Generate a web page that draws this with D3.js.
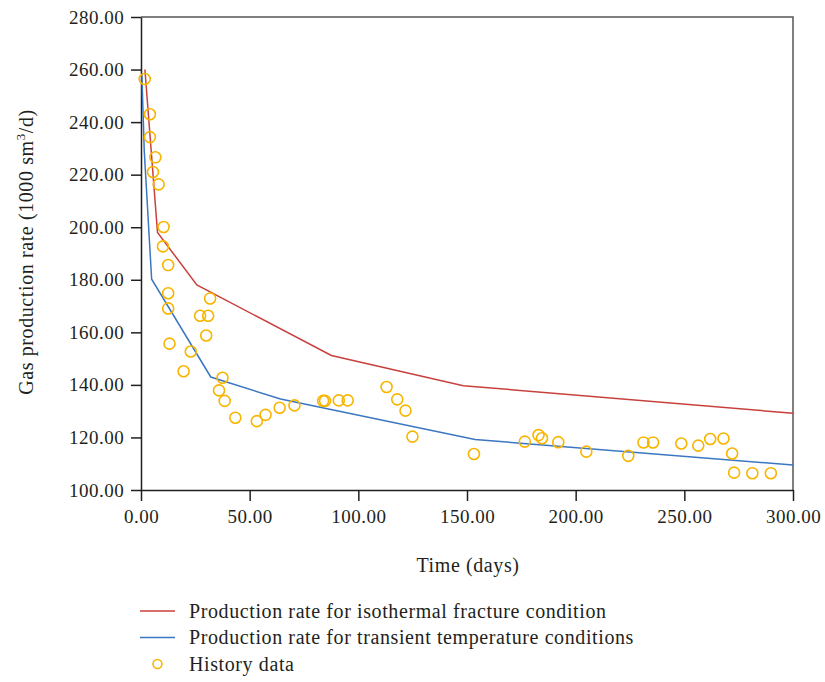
<!DOCTYPE html>
<html>
<head>
<meta charset="utf-8">
<script src="https://cdn.jsdelivr.net/npm/d3@7"></script>
<style>
    body { margin: 0; background: #fff; }
    text { font-family: "Liberation Serif", "DejaVu Serif", serif; fill: #231f20; }
</style>
</head>
<body>
<script>
// Gas production rate vs time: two simulated curves plus history data

// isothermal fracture condition (red)
var isoDays  = [1.8, 7.6, 25.7, 87.6, 148.3, 300];
var isoRates = [260, 198, 178, 151.2, 139.7, 129.2];

// transient temperature conditions (blue)
var transDays  = [0.4, 1.5, 4.9, 32.1, 64.2, 153.7, 300];
var transRates = [258, 229, 180.2, 143, 134.6, 119.2, 109.5];

// history data (orange circles)
var histDays = [1.7, 4.1, 4.1, 6.6, 5.5, 8.1, 10.4, 10.1, 12.5, 12.5,
    31.8, 12.5, 27.2, 30.9, 30.0, 13.1, 22.9, 19.6, 37.5, 35.9,
    38.5, 43.4, 53.3, 57.3, 63.8, 70.6, 83.8, 84.7, 91.0, 95.1,
    113.0, 117.9, 121.7, 124.9, 153.2, 176.6, 182.9, 184.5, 192.0, 204.9,
    224.2, 231.2, 235.6, 248.6, 256.4, 261.9, 268.0, 272.0, 272.9, 281.3,
    289.8];
var histRates = [256.4, 243.0, 234.3, 226.6, 221.0, 216.3, 200.1, 192.7, 185.6, 174.9,
    172.9, 169.1, 166.3, 166.3, 158.8, 155.7, 152.7, 145.2, 142.7, 137.9,
    133.9, 127.5, 126.2, 128.6, 131.3, 132.2, 133.9, 133.9, 134.1, 134.1,
    139.2, 134.5, 130.2, 120.3, 113.7, 118.4, 120.9, 119.7, 118.2, 114.6,
    113.0, 118.1, 118.1, 117.7, 116.9, 119.4, 119.6, 113.9, 106.6, 106.4,
    106.4];

var xTicks = [0, 50, 100, 150, 200, 250, 300];
var yTicks = [100, 120, 140, 160, 180, 200, 220, 240, 260, 280];

var legendLabels = [
    "Production rate for isothermal fracture condition",
    "Production rate for transient temperature conditions",
    "History data"
];

var red = "#c8403d", blue = "#3b77c0", orange = "#f7b500";

var margin = {top: 17, right: 32, bottom: 192, left: 141},
    width = 825 - margin.left - margin.right,
    height = 682 - margin.top - margin.bottom;

var svg = d3.select("body").append("svg")
    .attr("width", 825)
    .attr("height", 682);

var g = svg.append("g")
    .attr("transform", "translate(" + margin.left + "," + margin.top + ")");

var xScale = d3.scaleLinear().domain([0, 300]).range([0, width]);
var yScale = d3.scaleLinear().domain([100, 280]).range([height, 0]);

// frame: top and right edges
g.append("path")
    .attr("d", "M0,0H" + width + "V" + height)
    .attr("fill", "none")
    .attr("stroke", "#555")
    .attr("stroke-width", 1.5);

var xAxis = d3.axisBottom(xScale).tickValues(xTicks)
    .tickFormat(d3.format(".2f")).tickSize(11).tickSizeOuter(0);
var yAxis = d3.axisLeft(yScale).tickValues(yTicks)
    .tickFormat(d3.format(".2f")).tickSize(10).tickSizeOuter(0);

var xg = g.append("g")
    .attr("transform", "translate(0," + height + ")")
    .call(xAxis);
xg.selectAll("text")
    .attr("font-size", "19px")
    .attr("letter-spacing", "0.5px")
    .attr("dy", "1em");

var yg = g.append("g").call(yAxis);
yg.selectAll("text")
    .attr("font-size", "19px")
    .attr("letter-spacing", "0.5px")
    .attr("dx", "-0.2em");

g.selectAll(".domain, .tick line")
    .attr("stroke", "#231f20")
    .attr("stroke-width", 1.5);

// curves
var line = d3.line()
    .x(function(d) { return xScale(d[0]); })
    .y(function(d) { return yScale(d[1]); });

g.append("path")
    .datum(isoDays.map(function(d, i) { return [d, isoRates[i]]; }))
    .attr("d", line)
    .attr("fill", "none")
    .attr("stroke", red)
    .attr("stroke-width", 1.5);

g.append("path")
    .datum(transDays.map(function(d, i) { return [d, transRates[i]]; }))
    .attr("d", line)
    .attr("fill", "none")
    .attr("stroke", blue)
    .attr("stroke-width", 1.5);

// history points
g.selectAll("circle.hist")
    .data(histDays.map(function(d, i) { return [d, histRates[i]]; }))
    .enter()
    .append("circle")
    .attr("class", "hist")
    .attr("cx", function(d) { return xScale(d[0]); })
    .attr("cy", function(d) { return yScale(d[1]); })
    .attr("r", 5.5)
    .attr("fill", "none")
    .attr("stroke", orange)
    .attr("stroke-width", 1.6);

// axis titles
svg.append("text")
    .attr("x", 468)
    .attr("y", 572)
    .attr("text-anchor", "middle")
    .attr("font-size", "20px")
    .attr("letter-spacing", "0.6px")
    .text("Time (days)");

var yTitle = svg.append("text")
    .attr("transform", "translate(33,252) rotate(-90)")
    .attr("text-anchor", "middle")
    .attr("font-size", "20px")
    .attr("letter-spacing", "0.6px");
yTitle.append("tspan").text("Gas production rate (1000 sm");
yTitle.append("tspan").attr("font-size", "13px").attr("dy", "-0.6em").text("3");
yTitle.append("tspan").attr("dy", "0.4em").text("/d)");

// legend
var legend = svg.append("g").attr("transform", "translate(140,611)");
var rowH = 26.5;
legend.selectAll("text")
    .data(legendLabels)
    .enter()
    .append("text")
    .attr("x", 49)
    .attr("y", function(d, i) { return i * rowH; })
    .attr("dy", "0.33em")
    .attr("font-size", "20px")
    .attr("letter-spacing", "0.6px")
    .text(function(d) { return d; });

legend.append("line")
    .attr("x1", 0).attr("x2", 35).attr("y1", 0).attr("y2", 0)
    .attr("stroke", red).attr("stroke-width", 1.5);
legend.append("line")
    .attr("x1", 0).attr("x2", 35).attr("y1", rowH).attr("y2", rowH)
    .attr("stroke", blue).attr("stroke-width", 1.5);
legend.append("circle")
    .attr("cx", 17.5).attr("cy", 2 * rowH).attr("r", 4.5)
    .attr("fill", "none").attr("stroke", orange).attr("stroke-width", 1.6);
</script>
</body>
</html>
